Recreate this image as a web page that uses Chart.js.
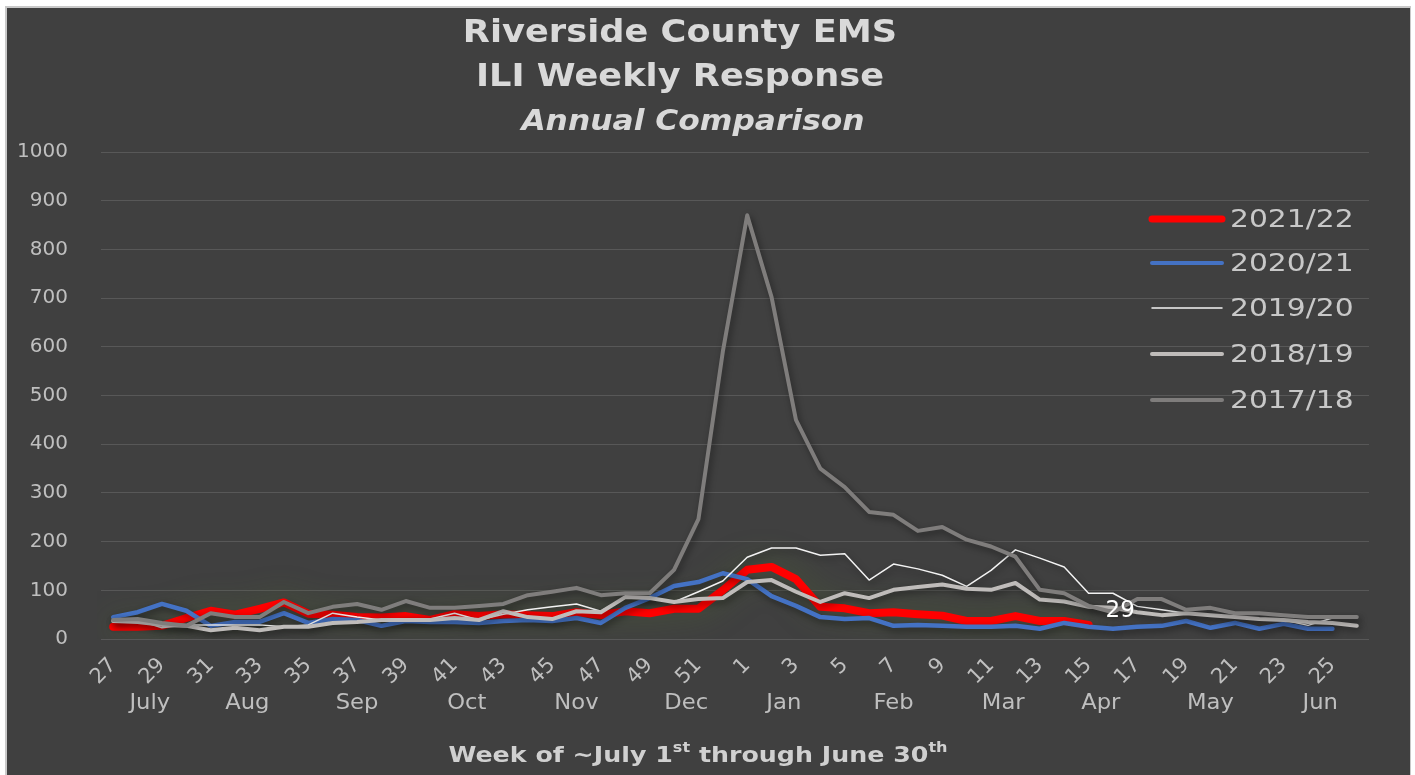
<!DOCTYPE html>
<html>
<head>
<meta charset="utf-8">
<title>Riverside County EMS - ILI Weekly Response</title>
<script src="https://cdn.jsdelivr.net/npm/chart.js@4.4.1/dist/chart.umd.min.js"></script>
<style>
  html, body { margin: 0; padding: 0; background: #fff; }
  canvas { display: block; }
</style>
</head>
<body>
<canvas id="chart" width="1415" height="775"></canvas>
<script>
// week numbers, July -> June
const weekLabels = ['27','28','29','30','31','32','33','34','35','36','37','38','39','40','41','42','43','44','45','46','47','48','49','50','51','52',
                    '1','2','3','4','5','6','7','8','9','10','11','12','13','14','15','16','17','18','19','20','21','22','23','24','25','26'];

// month groups under the week ticks (weeks per month)
const monthNames = ['July','Aug','Sep','Oct','Nov','Dec','Jan','Feb','Mar','Apr','May','Jun'];
const monthWeeks = [4, 4, 5, 4, 5, 4, 4, 5, 4, 4, 5, 4];

// weekly ILI responses per season
const s2021_22 = [25,25,27,43,58,50,62,75,52,50,45,44,47,39,51,47,51,49,47,55,49,57,53,62,62,100,
                  142,148,123,66,63,53,55,51,48,37,37,47,37,37,29];
const s2020_21 = [45,55,72,58,27,35,35,53,33,41,39,27,37,35,35,33,37,39,37,43,33,64,84,109,117,135,
                  123,88,68,45,41,43,27,29,27,25,25,27,21,33,25,21,25,27,37,23,33,21,31,21,21];
const s2019_20 = [35,39,23,29,29,29,29,25,29,53,45,39,39,41,53,39,51,60,66,72,57,86,86,76,97,119,
                  168,187,187,172,175,121,154,144,131,108,141,183,166,148,94,94,67,60,53,49,45,41,39,28,43,43];
const s2018_19 = [37,35,29,27,18,23,18,25,25,33,35,39,39,39,43,39,57,45,41,57,55,86,84,76,82,84,
                  117,121,97,76,94,84,101,107,112,103,101,115,81,77,66,64,55,49,53,49,45,41,39,35,33,27];
const s2017_18 = [39,41,33,27,53,45,45,76,53,66,72,60,78,64,64,68,72,90,97,105,90,94,94,142,246,590,
                  870,702,450,350,312,261,255,222,230,204,190,169,101,94,68,55,82,82,60,64,53,53,49,45,45,45];

const seriesNames = ['2021/22', '2020/21', '2019/20', '2018/19', '2017/18'];
const seriesColors = ['#ff0000', '#4472c4', '#f2f2f2', '#bfbcba', '#7f7d7c'];
const seriesWidths = [8, 4.5, 1.5, 4, 4];

const FONT = "'DejaVu Sans', sans-serif";

// background + thin frame like the pasted excel picture
const framePlugin = {
  id: 'frame',
  beforeDraw(chart) {
    const ctx = chart.ctx;
    ctx.save();
    ctx.fillStyle = '#ffffff';
    ctx.fillRect(0, 0, chart.width, chart.height);
    ctx.fillStyle = '#c9c9c9';
    ctx.fillRect(5, 6, 1406, chart.height - 6);
    ctx.fillStyle = '#404040';
    ctx.fillRect(7, 8, 1403, chart.height - 8);
    ctx.restore();
  }
};

// glow under the current season, soft shadow under the others
const shadowPlugin = {
  id: 'lineShadow',
  beforeDatasetDraw(chart, args) {
    const ctx = chart.ctx;
    ctx.save();
    if (args.index === 0) {
      ctx.shadowColor = 'rgba(85,115,45,0.6)';
      ctx.shadowBlur = 30;
    } else {
      ctx.shadowColor = 'rgba(0,0,0,0.45)';
      ctx.shadowBlur = 7;
      ctx.shadowOffsetX = 2;
      ctx.shadowOffsetY = 3;
    }
  },
  afterDatasetDraw(chart) {
    chart.ctx.restore();
  }
};

function drawStretched(ctx, text, x, y, sx) {
  ctx.save();
  ctx.translate(x, y);
  ctx.scale(sx, 1);
  ctx.fillText(text, 0, 0);
  ctx.restore();
}

const decorPlugin = {
  id: 'decor',
  afterDraw(chart) {
    const ctx = chart.ctx;
    const xs = chart.scales.x;
    ctx.save();

    // title
    ctx.fillStyle = '#d9d9d9';
    ctx.textAlign = 'center';
    ctx.textBaseline = 'middle';
    ctx.font = 'bold 32px ' + FONT;
    drawStretched(ctx, 'Riverside County EMS', 680, 34, 1.1);
    drawStretched(ctx, 'ILI Weekly Response', 680, 78, 1.1);
    ctx.font = 'italic bold 29px ' + FONT;
    drawStretched(ctx, 'Annual Comparison', 693, 122, 1.08);

    // month row under week ticks
    ctx.fillStyle = '#bfbfbf';
    ctx.font = '21px ' + FONT;
    let start = 0;
    monthNames.forEach((m, i) => {
      const end = start + monthWeeks[i] - 1;
      const cx = (xs.getPixelForValue(start) + xs.getPixelForValue(end)) / 2;
      drawStretched(ctx, m, cx, 704, 1.08);
      start = end + 1;
    });

    // axis title with superscripts
    const sx = 1.15;
    const parts = [['Week of ~July 1', false], ['st', true], [' through June 30', false], ['th', true]];
    const big = 'bold 22px ' + FONT, small = 'bold 14px ' + FONT;
    let total = 0;
    parts.forEach(p => { ctx.font = p[1] ? small : big; total += ctx.measureText(p[0]).width * sx; });
    let x = 698 - total / 2;
    ctx.textAlign = 'left';
    ctx.textBaseline = 'alphabetic';
    ctx.fillStyle = '#d0d0d0';
    parts.forEach(p => {
      ctx.font = p[1] ? small : big;
      drawStretched(ctx, p[0], x, p[1] ? 752 : 762, sx);
      x += ctx.measureText(p[0]).width * sx;
    });

    // value label at the last point of the current season
    const meta = chart.getDatasetMeta(0);
    const last = meta.data[s2021_22.length - 1];
    ctx.fillStyle = '#ffffff';
    ctx.font = '23px ' + FONT;
    ctx.textBaseline = 'middle';
    ctx.fillText(String(s2021_22[s2021_22.length - 1]), last.x + 17, last.y - 14);

    // legend
    const rows = [219, 263, 308, 354, 400];
    ctx.lineCap = 'round';
    seriesNames.forEach((name, i) => {
      ctx.strokeStyle = seriesColors[i];
      ctx.lineWidth = i === 0 ? 7 : (i === 2 ? 1.5 : 4);
      ctx.beginPath();
      ctx.moveTo(1152, rows[i]);
      ctx.lineTo(1222, rows[i]);
      ctx.stroke();
      ctx.fillStyle = '#c8c8c8';
      ctx.font = '25px ' + FONT;
      ctx.textAlign = 'left';
      drawStretched(ctx, name, 1230, rows[i] + 1, 1.19);
    });

    ctx.restore();
  }
};

const datasets = [s2021_22, s2020_21, s2019_20, s2018_19, s2017_18].map((d, i) => ({
  label: seriesNames[i],
  data: d,
  borderColor: seriesColors[i],
  backgroundColor: seriesColors[i],
  borderWidth: seriesWidths[i],
  pointRadius: 0,
  tension: 0,
  fill: false,
  borderJoinStyle: 'round',
  borderCapStyle: 'round',
  order: 5 - i
}));

new Chart(document.getElementById('chart'), {
  type: 'line',
  data: { labels: weekLabels, datasets: datasets },
  options: {
    responsive: false,
    animation: false,
    devicePixelRatio: 1,
    layout: { padding: { top: 152, right: 46, bottom: 0, left: 0 } },
    plugins: {
      legend: { display: false },
      title: { display: false },
      tooltip: { enabled: false }
    },
    scales: {
      x: {
        offset: true,
        grid: { display: false },
        border: { display: false },
        ticks: {
          autoSkip: false,
          minRotation: 45,
          maxRotation: 45,
          padding: 6,
          color: '#bfbfbf',
          font: { family: FONT, size: 21 },
          callback: (v, i) => (i % 2 === 0 ? weekLabels[i] : '')
        },
        afterFit(scale) {
          scale.height = 136;
          scale.paddingLeft = 0;
          scale.paddingRight = 0;
        }
      },
      y: {
        min: 0,
        max: 1000,
        grid: { color: '#585858', lineWidth: 1, drawTicks: false },
        border: { display: false },
        ticks: {
          stepSize: 100,
          padding: 33,
          color: '#bfbfbf',
          font: { family: FONT, size: 20 },
          callback: v => String(v)
        },
        afterFit(scale) {
          scale.width = 101;
          scale.paddingTop = 0;
          scale.paddingBottom = 0;
        }
      }
    }
  },
  plugins: [framePlugin, shadowPlugin, decorPlugin]
});
</script>
</body>
</html>
